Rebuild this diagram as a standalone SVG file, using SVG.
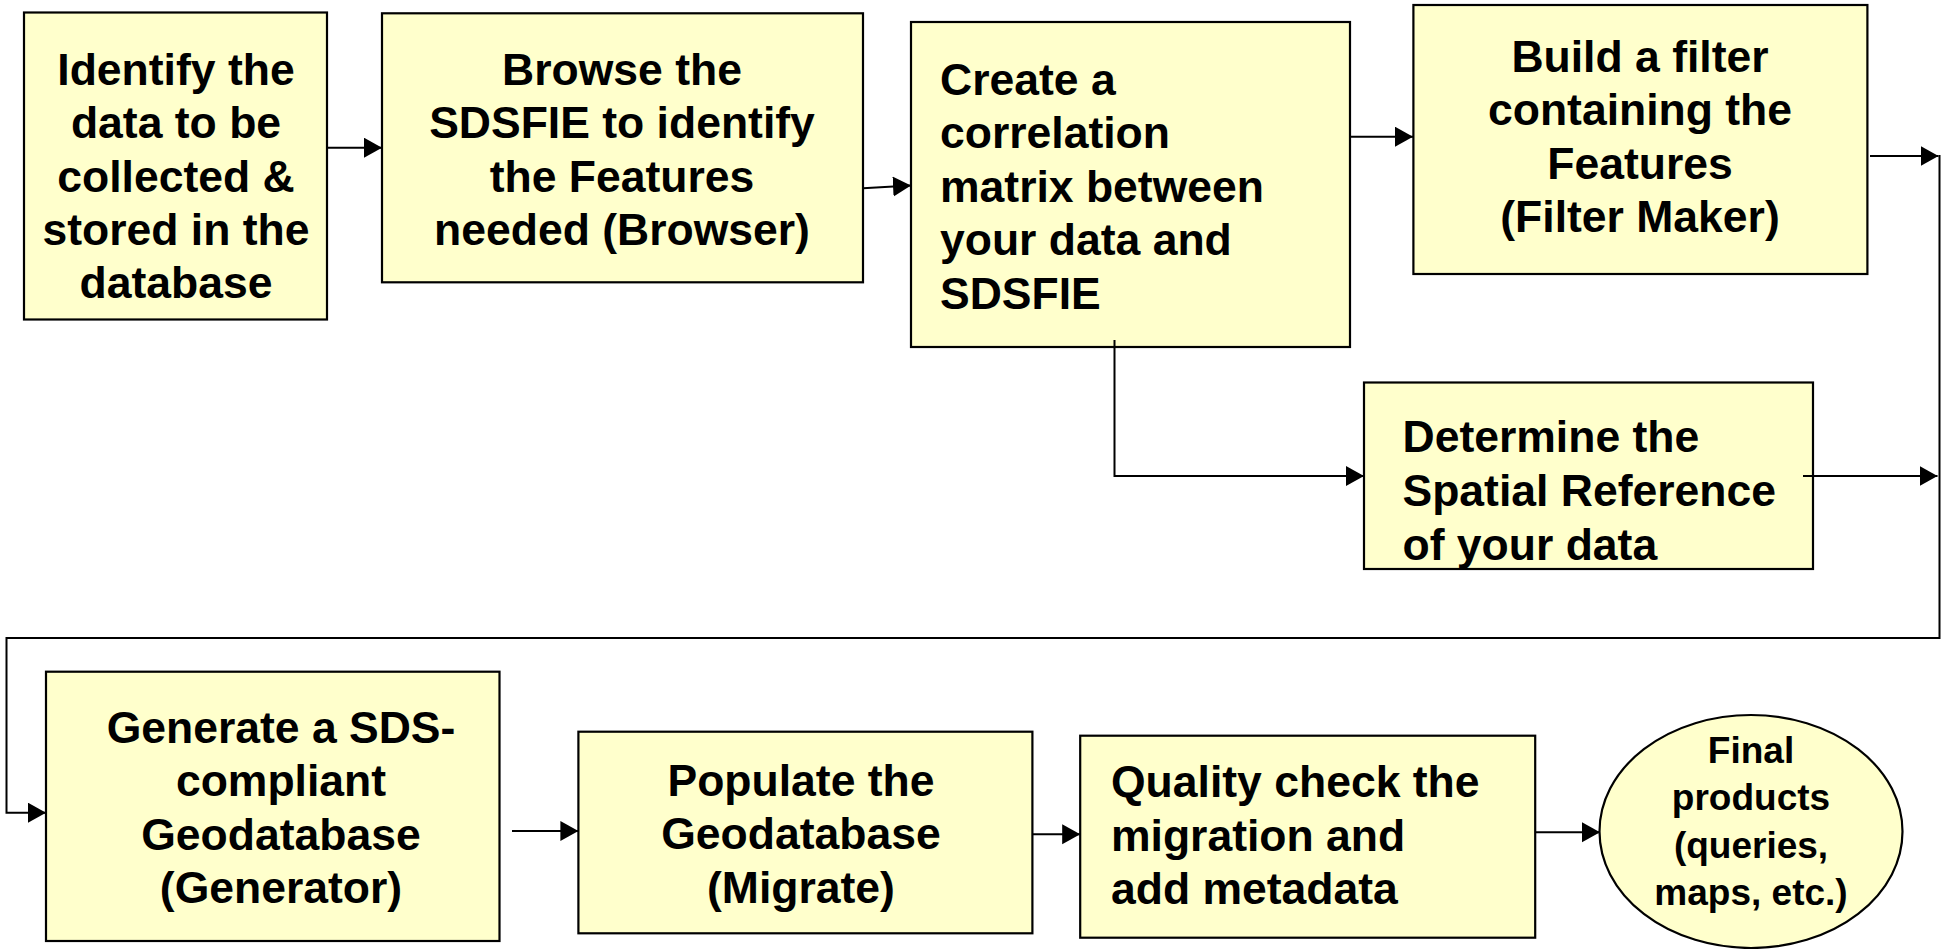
<svg xmlns="http://www.w3.org/2000/svg" width="1944" height="949" viewBox="0 0 1944 949">
<style>
.box{fill:#FFFFCC;stroke:#000;stroke-width:2.2}
.t{font-family:"Liberation Sans",Arial,sans-serif;font-weight:bold;font-size:44.5px;fill:#000}
.c{text-anchor:middle}
.e{font-size:37px}
.ln{fill:none;stroke:#000;stroke-width:2}
</style>
<defs>
<marker id="ah" markerUnits="userSpaceOnUse" markerWidth="19" markerHeight="21" refX="18" refY="10" orient="auto" viewBox="0 0 19 21">
<path d="M0,0 L18,10 L0,20 Z" fill="#000"/>
</marker>
</defs>
<rect width="1944" height="949" fill="#fff"/>
<g id="n1">
<rect class="box" x="24" y="12.5" width="303" height="307"/>
<text class="t c"><tspan x="176" y="85">Identify the</tspan><tspan x="176" y="138.3">data to be</tspan><tspan x="176" y="191.7">collected &amp;</tspan><tspan x="176" y="245">stored in the</tspan><tspan x="176" y="298.3">database</tspan></text>
</g>
<g id="n2">
<rect class="box" x="382" y="13.3" width="481" height="269"/>
<text class="t c"><tspan x="622" y="85">Browse the</tspan><tspan x="622" y="138.3">SDSFIE to identify</tspan><tspan x="622" y="191.7">the Features</tspan><tspan x="622" y="245">needed (Browser)</tspan></text>
</g>
<g id="n3">
<rect class="box" x="911" y="22" width="439" height="325"/>
<text class="t"><tspan x="940" y="94.5">Create a</tspan><tspan x="940" y="148">correlation</tspan><tspan x="940" y="201.5">matrix between</tspan><tspan x="940" y="255">your data and</tspan><tspan x="940" y="308.5">SDSFIE</tspan></text>
</g>
<g id="n4">
<rect class="box" x="1413.4" y="5" width="454" height="269"/>
<text class="t c"><tspan x="1640" y="71.5">Build a filter</tspan><tspan x="1640" y="125">containing the</tspan><tspan x="1640" y="178.5">Features</tspan><tspan x="1640" y="232">(Filter Maker)</tspan></text>
</g>
<g id="n5">
<rect class="box" x="1364" y="382.5" width="449" height="186.5"/>
<text class="t"><tspan x="1402.5" y="452">Determine the</tspan><tspan x="1402.5" y="506">Spatial Reference</tspan><tspan x="1402.5" y="559.5">of your data</tspan></text>
</g>
<g id="n6">
<rect class="box" x="46" y="671.7" width="453.5" height="269.3"/>
<text class="t c"><tspan x="281" y="742.5">Generate a SDS-</tspan><tspan x="281" y="796">compliant</tspan><tspan x="281" y="849.5">Geodatabase</tspan><tspan x="281" y="903">(Generator)</tspan></text>
</g>
<g id="n7">
<rect class="box" x="578.4" y="731.7" width="454" height="201.6"/>
<text class="t c"><tspan x="801" y="795.5">Populate the</tspan><tspan x="801" y="849">Geodatabase</tspan><tspan x="801" y="902.5">(Migrate)</tspan></text>
</g>
<g id="n8">
<rect class="box" x="1080.2" y="735.7" width="455" height="202"/>
<text class="t"><tspan x="1111" y="797">Quality check the</tspan><tspan x="1111" y="850.5">migration and</tspan><tspan x="1111" y="904">add metadata</tspan></text>
</g>
<g id="n9">
<ellipse class="box" cx="1751" cy="831.5" rx="151.5" ry="116.5"/>
<text class="t c e"><tspan x="1751" y="763">Final</tspan><tspan x="1751" y="810">products</tspan><tspan x="1751" y="857.5">(queries,</tspan><tspan x="1751" y="905">maps, etc.)</tspan></text>
</g>
<g id="connectors">
<path class="ln" d="M327,147.7 H382" marker-end="url(#ah)"/>
<path class="ln" d="M863,188.3 L911,185.5" marker-end="url(#ah)"/>
<path class="ln" d="M1350,136.7 H1413" marker-end="url(#ah)"/>
<path class="ln" d="M1870,156 H1938.5" marker-end="url(#ah)"/>
<path class="ln" d="M1114.5,340 V476 H1364" marker-end="url(#ah)"/>
<path class="ln" d="M1803,476 H1937.5" marker-end="url(#ah)"/>
<path class="ln" d="M1939.5,155 V638 H6.5 V812.7 H46" marker-end="url(#ah)"/>
<path class="ln" d="M512,831 H578.4" marker-end="url(#ah)"/>
<path class="ln" d="M1032.3,834.3 H1080.2" marker-end="url(#ah)"/>
<path class="ln" d="M1535,832.3 H1600" marker-end="url(#ah)"/>
</g>
</svg>
